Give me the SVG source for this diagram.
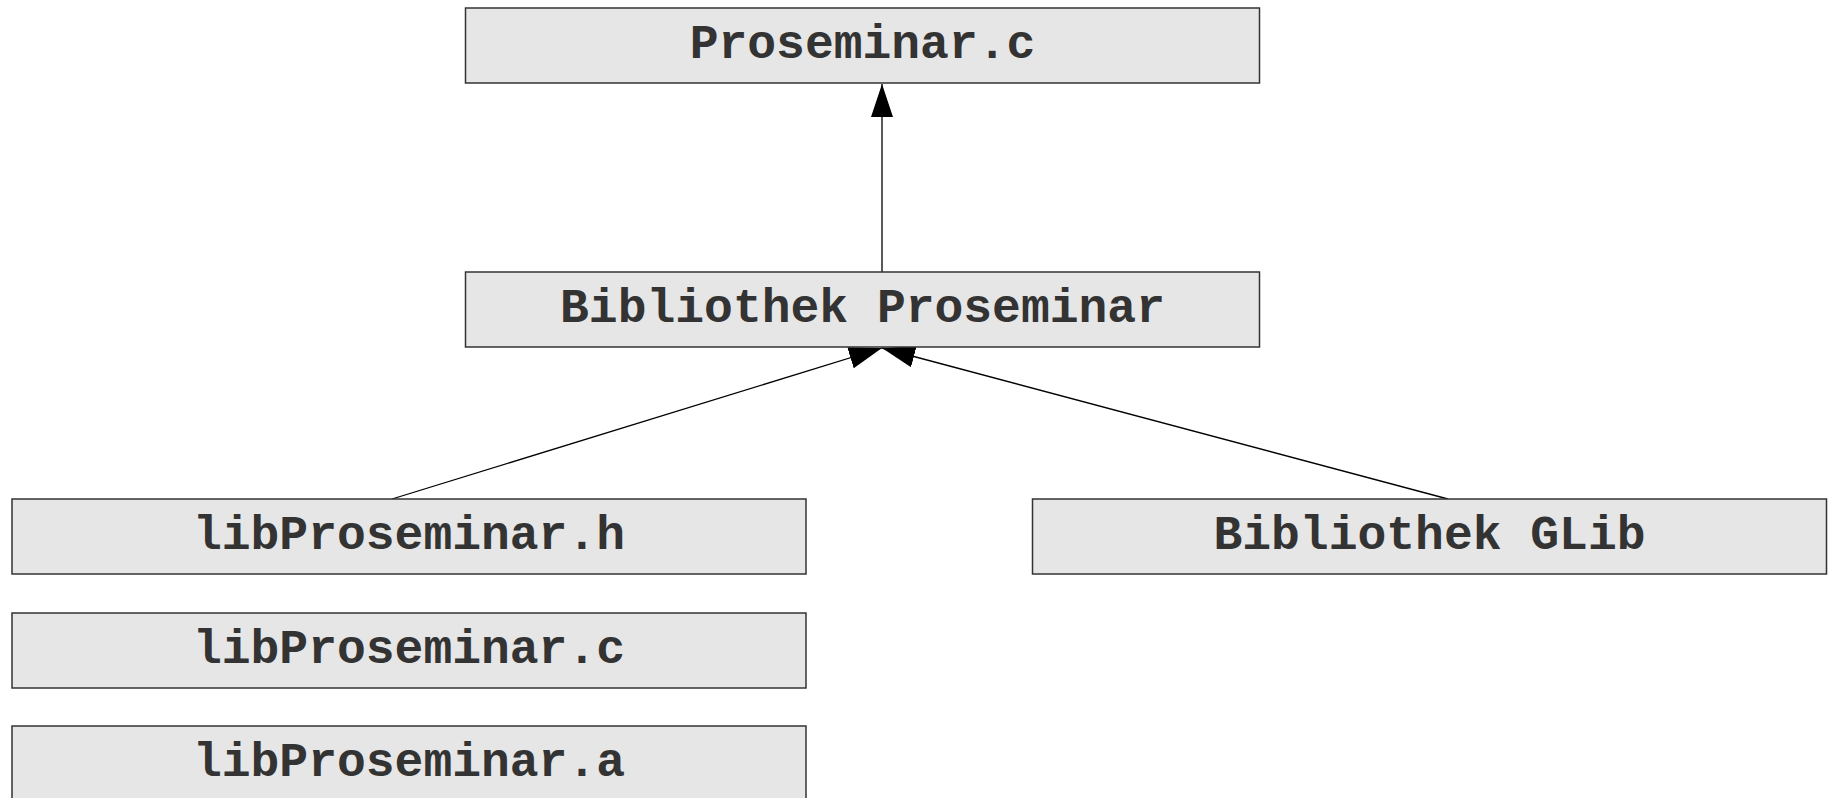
<svg xmlns="http://www.w3.org/2000/svg" width="1833" height="798" viewBox="0 0 1833 798">
  <style>
    .box { fill: #e6e6e6; stroke: #333333; stroke-width: 1.5; }
    .lbl { font-family: "Liberation Mono", "Courier New", monospace; font-weight: bold; font-size: 48px; fill: #333333; text-anchor: middle; }
    .edge { stroke: #000000; stroke-width: 1.3; fill: none; marker-end: url(#arr); }
  </style>
  <defs>
    <marker id="arr" markerUnits="userSpaceOnUse" markerWidth="34" markerHeight="24" refX="33" refY="11" orient="auto" viewBox="0 0 34 22">
      <path d="M0,0 L33,11 L0,22 z" fill="#000000"/>
    </marker>
  </defs>
  <rect width="1833" height="798" fill="#ffffff"/>
  <g id="connectors">
    <line class="edge" x1="882" y1="272" x2="882" y2="84"/>
    <line class="edge" x1="392" y1="499" x2="882" y2="348"/>
    <line class="edge" x1="1448" y1="499" x2="882" y2="348"/>
  </g>
  <g id="node-proseminar-c">
    <rect class="box" x="465.5" y="8" width="794" height="75"/>
    <text class="lbl" x="862.5" y="57.5">Proseminar.c</text>
  </g>
  <g id="node-bibliothek-proseminar">
    <rect class="box" x="465.5" y="272" width="794" height="75"/>
    <text class="lbl" x="862.5" y="321.5">Bibliothek Proseminar</text>
  </g>
  <g id="node-libproseminar-h">
    <rect class="box" x="12" y="499" width="794" height="75"/>
    <text class="lbl" x="409" y="549">libProseminar.h</text>
  </g>
  <g id="node-bibliothek-glib">
    <rect class="box" x="1032.5" y="499" width="794" height="75"/>
    <text class="lbl" x="1429.5" y="549">Bibliothek GLib</text>
  </g>
  <g id="node-libproseminar-c">
    <rect class="box" x="12" y="613" width="794" height="75"/>
    <text class="lbl" x="409" y="663">libProseminar.c</text>
  </g>
  <g id="node-libproseminar-a">
    <rect class="box" x="12" y="726" width="794" height="75"/>
    <text class="lbl" x="409" y="776">libProseminar.a</text>
  </g>
</svg>
